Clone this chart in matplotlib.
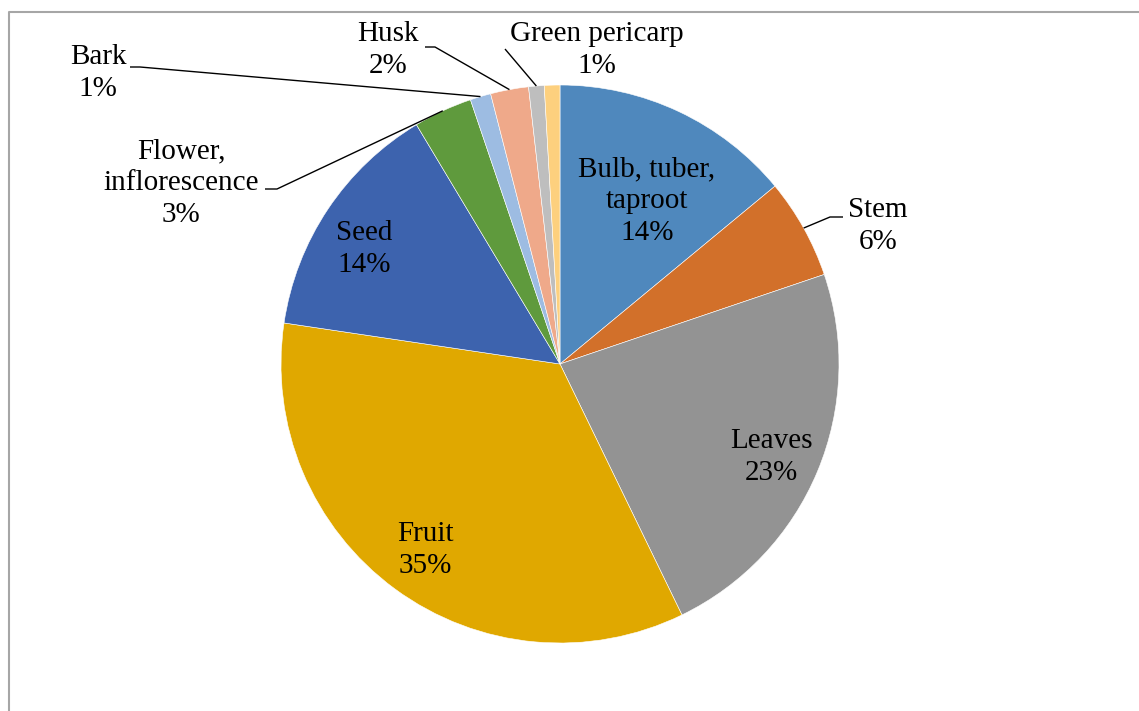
import numpy as np
import matplotlib.pyplot as plt

plt.rcParams['font.family'] = ['Liberation Serif', 'DejaVu Serif']

# plant part used (share of reports, %)
parts = ['Bulb, tuber,\ntaproot', 'Stem', 'Leaves', 'Fruit', 'Seed',
         'Flower,\ninflorescence', 'Bark', 'Husk', 'Green pericarp', '']
shares = [14.0, 5.8, 23.0, 34.55, 14.05, 3.4, 1.2, 2.2, 0.9, 0.9]
colors = ['#4F88BD', '#D2702A', '#939393', '#E0A800', '#3D63AE',
          '#5F9A3D', '#9DBCE2', '#EFA98A', '#BEBEBE', '#FDD07E']

W, H = 1139, 711
fig = plt.figure(figsize=(W / 100, H / 100), dpi=100)
ax = fig.add_axes([0, 0, 1, 1])

cx, cy, r = 560, H - 364, 279
wedges, _ = ax.pie(shares, colors=colors, startangle=90, counterclock=False,
                   center=(cx, cy), radius=r,
                   wedgeprops=dict(linewidth=0.4, edgecolor='white'))
ax.set_xlim(0, W)
ax.set_ylim(0, H)
ax.set_aspect('equal')
ax.axis('off')

total = sum(shares)
pct = [f'{v / total * 100:.0f}%' for v in shares]

# labels inside or beside the slices: (x, y) in pixels from top-left
inner = {0: (647, 201), 2: (771, 457), 3: (425, 550), 4: (364, 249)}
outer = {1: (878, 226), 5: (181, 183), 6: (98, 73), 7: (388, 50), 8: (597, 50)}
# leader line start and elbow for outside labels
leaders = {1: [(843, 217), (830, 217)],
           5: [(265, 189), (277, 189)],
           6: [(130, 67), (140, 67)],
           7: [(425, 47), (435, 47)],
           8: [(505, 49)]}

fs = 21
ls = 1.3
for i, (px, py) in inner.items():
    ax.text(px, H - py, f'{parts[i]}\n{pct[i]}', ha='center', va='center',
            fontsize=fs, linespacing=ls, color='black')
for i, (px, py) in outer.items():
    ax.text(px, H - py, f'{parts[i]}\n{pct[i]}', ha='center', va='center',
            fontsize=fs, linespacing=ls, color='black')
    w = wedges[i]
    mid = np.deg2rad((w.theta1 + w.theta2) / 2)
    ex, ey = cx + r * np.cos(mid), cy + r * np.sin(mid)
    pts = [(x, H - y) for x, y in leaders[i]] + [(ex, ey)]
    xs, ys = zip(*pts)
    ax.plot(xs, ys, color='black', lw=1.0, solid_capstyle='butt')

# chart area frame
ax.plot([8.5, 8.5, W], [0, H - 11.5, H - 11.5], color='#A6A6A6', lw=1.5)

fig.savefig('out.png', dpi=100)
